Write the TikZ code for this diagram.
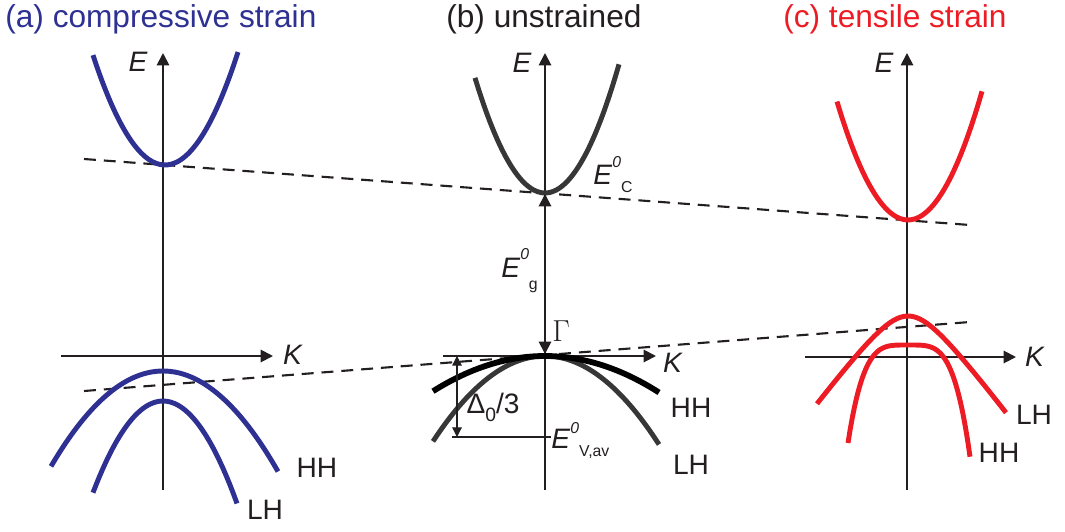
\documentclass[tikz,border=0pt]{standalone}
\usepackage{fontspec}
\setmainfont{Liberation Sans}
\usetikzlibrary{arrows.meta}
\definecolor{compblue}{RGB}{46,49,146}
\definecolor{tensred}{RGB}{237,28,36}
\definecolor{axisgray}{RGB}{35,31,32}
\definecolor{bandgray}{RGB}{55,55,55}

\begin{document}
\begin{tikzpicture}[x=0.02cm, y=-0.02cm,
  >={Triangle[length=7pt,width=7pt]},
  axis/.style={axisgray, line width=1.1pt},
  band/.style={line width=2.8pt},
  guide/.style={axisgray, line width=1.2pt, dash pattern=on 6.8pt off 4.5pt},
  lbl/.style={font=\fontsize{16}{19}\selectfont, inner sep=0pt, text=axisgray},
  title/.style={font=\fontsize{18}{21}\selectfont, anchor=base west, inner sep=0pt}]
  \useasboundingbox (0,0) rectangle (1065,531);

  % titles
  \node[title, text=compblue] (ta) at (5,27) {(a) compressive strain};
  \node[title, text=axisgray] (tb) at (446,27) {(b) unstrained};
  \node[title, text=tensred] (tc) at (783,27) {(c) tensile strain};

  % dashed guides: conduction and valence band edges
  \coordinate (cb-l) at (84,159);
  \coordinate (cb-r) at (970,225);
  \coordinate (vb-l) at (84,391);
  \coordinate (vb-r) at (970,322);
  \draw[guide] (cb-l) -- (cb-r);
  \draw[guide] (vb-l) -- (vb-r);

  % (a) axes
  \coordinate (a-bot) at (163,490);
  \coordinate (a-top) at (163,53);
  \coordinate (a-kl) at (61,356);
  \coordinate (a-kr) at (273,356);
  \draw[axis,->] (a-bot) -- (a-top);
  \draw[axis,->] (a-kl) -- (a-kr);
  \node[lbl, left=4pt] (a-E) at (155,62) {\textit{E}};
  \node[lbl] (a-K) at (293,355) {\textit{K}};

  % (a) bands
  \draw[band, compblue] plot[smooth, domain=-72:73, samples=40]
    ({165+\x}, {165-0.0212*\x*\x});
  \draw[band, compblue] plot[smooth, domain=-112:115, samples=50]
    ({163+\x}, {371+0.0076*\x*\x});
  \draw[band, compblue] plot[smooth, domain=-70:74, samples=40]
    ({163+\x}, {401+0.0187*\x*\x});
  \node[lbl] (a-HH) at (317,468) {HH};
  \node[lbl] (a-LH) at (265,510) {LH};

  % (b) axes
  \coordinate (b-bot) at (545,490);
  \coordinate (b-top) at (545,53);
  \coordinate (b-kl) at (443,356);
  \coordinate (b-kr) at (656,356);
  \draw[axis,->] (b-bot) -- (b-top);
  \draw[axis,->] (b-kl) -- (b-kr);
  \node[lbl, left=4pt] (b-E) at (539,63) {\textit{E}};
  \node[lbl] (b-K) at (673,363) {\textit{K}};

  % (b) bands
  \draw[band, bandgray] plot[smooth, domain=-70:74, samples=40]
    ({545+\x}, {193-0.0235*\x*\x});
  \draw[band, bandgray] plot[smooth, domain=-112:114, samples=50]
    ({545+\x}, {356+0.0068*\x*\x});
  \draw[band, black, line width=3.3pt] plot[smooth, domain=-112:114, samples=50]
    ({545+\x}, {356+0.0028*\x*\x});

  % (b) gap and splitting
  \coordinate (gam) at (545,354);
  \coordinate (ec0) at (545,194);
  \draw[axis,<->] (ec0) -- (gam);
  \coordinate (d-top) at (457,356);
  \coordinate (d-bot) at (457,437);
  \coordinate (v-l) at (452,437);
  \coordinate (v-r) at (551,437);
  \draw[axisgray, line width=0.6pt] (v-l) -- (v-r);
  \draw[axisgray, line width=0.6pt,
    {Triangle[length=5.5pt,width=5.5pt]}-{Triangle[length=5.5pt,width=5.5pt]}] (d-top) -- (d-bot);
  \node[lbl, font=\fontsize{18}{20}\selectfont] (b-gam) at (561,331) {$\Gamma$};
  \node[lbl, anchor=base west] (b-Ec) at (593,184)
    {\textit{E}\raisebox{.6em}{\fontsize{9}{11}\selectfont\textit{0}}\raisebox{-.3em}{\fontsize{9}{11}\selectfont C}};
  \node[lbl, anchor=base west] (b-Eg) at (501,277)
    {\textit{E}\rlap{\raisebox{.62em}{\fontsize{9}{11}\selectfont\textit{0}}}\kern.3em\raisebox{-.45em}{\fontsize{9}{11}\selectfont g}};
  \node[lbl] (b-D) at (493,407)
    {Δ\raisebox{-.28em}{\fontsize{11}{13}\selectfont 0}/3};
  \node[lbl, anchor=base west] (b-Ev) at (551,448)
    {\textit{E}\raisebox{.52em}{\fontsize{9}{11}\selectfont\textit{0}}\raisebox{-.3em}{\fontsize{9}{11}\selectfont V,av}};
  \node[lbl] (b-HH) at (691,408) {HH};
  \node[lbl] (b-LH) at (691,465) {LH};

  % (c) axes
  \coordinate (c-bot) at (907,490);
  \coordinate (c-top) at (907,53);
  \coordinate (c-kl) at (805,357);
  \coordinate (c-kr) at (1016,357);
  \draw[axis,->] (c-bot) -- (c-top);
  \draw[axis,->] (c-kl) -- (c-kr);
  \node[lbl, left=4pt] (c-E) at (901,63) {\textit{E}};
  \node[lbl] (c-K) at (1035,357) {\textit{K}};

  % (c) bands
  \draw[band, tensred] plot[smooth, domain=-71:74, samples=40]
    ({908+\x}, {220-0.0235*\x*\x});
  \draw[band, tensred] plot[smooth, domain=-91:98, samples=60]
    ({908+\x}, {316+40*(sqrt(1+(\x/30)*(\x/30))-1)});
  \draw[band, tensred] plot[smooth, domain=-60:62, samples=60]
    ({908+\x}, {345+0.0756*(\x/10)*(\x/10)*(\x/10)*(\x/10)});
  \node[lbl] (c-LH) at (1034,415) {LH};
  \node[lbl] (c-HH) at (999,453) {HH};
\end{tikzpicture}
\end{document}
